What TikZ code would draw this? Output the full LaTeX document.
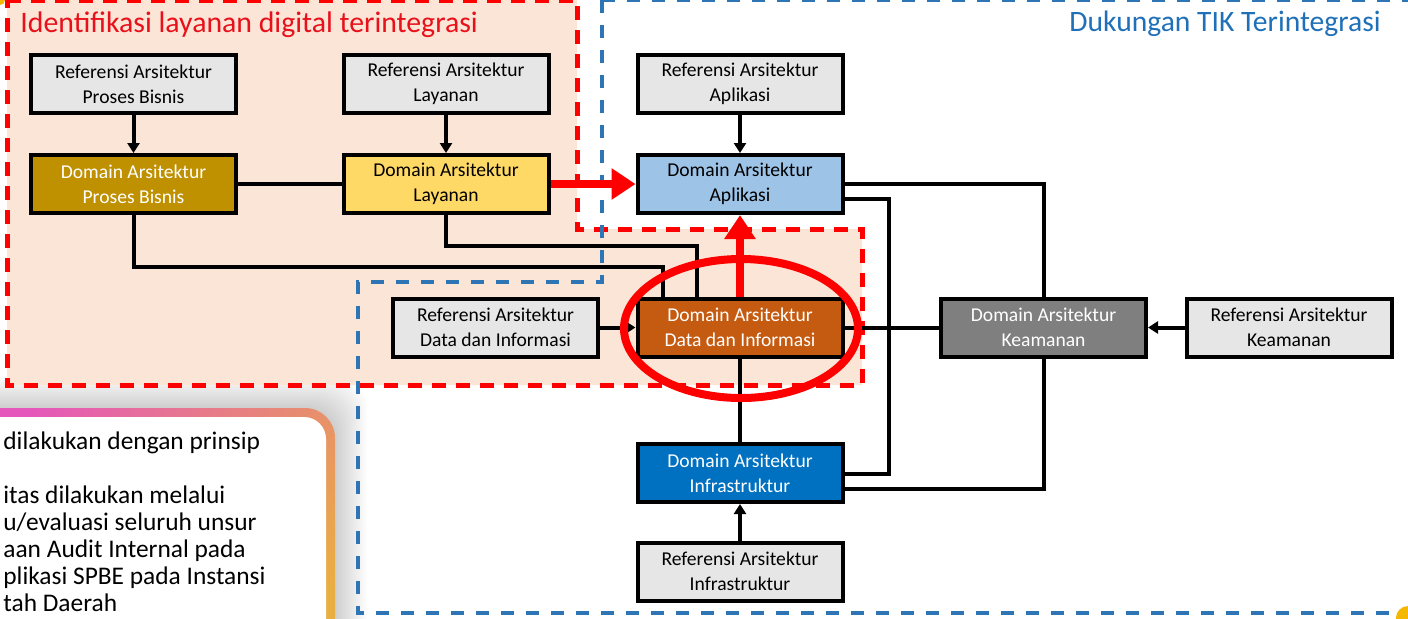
\documentclass[tikz,border=0pt]{standalone}
\usepackage{fontspec}
\setmainfont{Carlito}
\usetikzlibrary{arrows.meta,calc}
\definecolor{peach}{HTML}{FBE5D6}
\definecolor{refgray}{HTML}{E7E6E6}
\definecolor{pbgold}{HTML}{BF9000}
\definecolor{layyellow}{HTML}{FFD966}
\definecolor{aplblue}{HTML}{9DC3E6}
\definecolor{dataorange}{HTML}{C55A11}
\definecolor{keagray}{HTML}{7F7F7F}
\definecolor{infrablue}{HTML}{0070C0}
\definecolor{dashred}{HTML}{FF0000}
\definecolor{dashblue}{HTML}{2E75B6}
\definecolor{titlered}{HTML}{E8101A}
\definecolor{titleblue}{HTML}{1F70B8}
\definecolor{gradpink}{HTML}{E557BA}
\definecolor{gradorange}{HTML}{E9AE42}
\definecolor{cornery}{HTML}{F5B800}
\begin{document}
\begin{tikzpicture}[x=0.5pt,y=-0.5pt,
  box/.style={draw=black, line width=2pt, minimum width=102.5pt, minimum height=29pt,
    inner sep=0pt, align=center, font=\fontsize{9.8}{12.5}\selectfont},
  refbox/.style={box, fill=refgray, text=black},
  conn/.style={line width=2pt, draw=black},
  arr/.style={conn, -{Triangle[length=5pt,width=6pt]}},
  redarrow/.style={line width=4pt, draw=dashred, -{Triangle[length=12pt,width=15pt]}},
  reddash/.style={draw=dashred, line width=2.5pt, dash pattern=on 7pt off 5pt},
  bluedash/.style={draw=dashblue, line width=2pt, dash pattern=on 6.5pt off 6pt},
]
\useasboundingbox (0,0) rectangle (1408,618);
\clip (0,0) rectangle (1408,618);
\fill[white] (0,0) rectangle (1408,618);

% soft shadow of the note box
\foreach \d in {2,4,...,32}{
  \fill[black, opacity=0.011, rounded corners=16pt] ({-60-\d},{408-\d}) rectangle ({335+\d},{680+\d});
}

% peach region and dashed frames
\fill[peach] (7,0) -- (577,0) -- (577,229) -- (862,229) -- (862,385) -- (7,385) -- cycle;
\draw[reddash] (7,0) -- (577,0) -- (577,229) -- (862,229) -- (862,385) -- (7,385) -- cycle;
\draw[bluedash] (602,0) -- (1414,0) -- (1414,613) -- (358,613) -- (358,282) -- (602,282) -- cycle;

% note box with gradient border
\shade[rounded corners=15pt, top color=gradpink, bottom color=gradorange, shading angle=50]
  (-60,408) rectangle (335,690);
\fill[white, rounded corners=11pt] (-60,417) rectangle (326,690);
\node[anchor=base west, align=left, inner sep=0pt, font=\fontsize{12.7}{13.5}\selectfont] (note) at (3,611)
  {dilakukan dengan prinsip\\[13.5pt]itas dilakukan melalui\\u/evaluasi seluruh unsur\\aan Audit Internal pada\\plikasi SPBE pada Instansi\\tah Daerah};

% corner bits
\fill[cornery] (0,0) circle (2.5pt);
\fill[cornery] (1408,618) circle (6pt);

% titles
\node[anchor=base west, inner sep=0pt, text=titlered, font=\fontsize{14.9}{18}\selectfont] (t1) at (20,32) {Identifikasi layanan digital terintegrasi};
\node[anchor=base east, inner sep=0pt, text=titleblue, font=\fontsize{14.8}{18}\selectfont] (t2) at (1381,31) {Dukungan TIK Terintegrasi};

% nodes
\node[refbox] (refPB) at (133.5,84) {Referensi Arsitektur\\Proses Bisnis};
\node[refbox] (refLay) at (446,84) {Referensi Arsitektur\\Layanan};
\node[refbox] (refApl) at (740,84) {Referensi Arsitektur\\Aplikasi};
\node[box, fill=pbgold, text=white] (domPB) at (133.5,184) {Domain Arsitektur\\Proses Bisnis};
\node[box, fill=layyellow, text=black] (domLay) at (446,184) {Domain Arsitektur\\Layanan};
\node[box, fill=aplblue, text=black] (domApl) at (740,184) {Domain Arsitektur\\Aplikasi};
\node[refbox] (refData) at (495.5,327.5) {Referensi Arsitektur\\Data dan Informasi};
\node[box, fill=dataorange, text=white] (domData) at (740,327.5) {Domain Arsitektur\\Data dan Informasi};
\node[box, fill=keagray, text=white] (domKea) at (1043.5,327.5) {Domain Arsitektur\\Keamanan};
\node[refbox] (refKea) at (1289,327.5) {Referensi Arsitektur\\Keamanan};
\node[box, fill=infrablue, text=white] (domInfra) at (740,473) {Domain Arsitektur\\Infrastruktur};
\node[refbox] (refInfra) at (740,571.5) {Referensi Arsitektur\\Infrastruktur};

% connectors
\draw[arr] (refPB) -- (domPB);
\draw[arr] (refLay) -- (domLay);
\draw[arr] (refApl) -- (domApl);
\draw[conn] (domPB) -- (domLay);
\draw[conn] (domPB.south) |- ([xshift=-38.5pt,yshift=15pt]domData.north) -- ([xshift=-38.5pt]domData.north);
\draw[conn] (domLay.south) |- ([xshift=-21.5pt,yshift=25.5pt]domData.north) -- ([xshift=-21.5pt]domData.north);
\draw[arr] (refData) -- (domData);
\draw[conn] (domData) -- (domKea);
\draw[arr] (refKea) -- (domKea);
\draw[conn] (domData) -- (domInfra);
\draw[arr] (refInfra) -- (domInfra);
\draw[conn] (domApl.east) -| (domKea.north);
\draw[conn] ([yshift=-7.5pt]domApl.east) -| ([xshift=22pt]domData.east) |- ([yshift=-0.5pt]domInfra.east);
\draw[conn] (domKea.south) |- ([yshift=-8pt]domInfra.east);

% highlight
\draw[dashred, line width=4pt] (741,328.5) ellipse [x radius=58.5pt, y radius=34.75pt];
\draw[redarrow] (domLay.east) -- (domApl.west);
\draw[redarrow] (domData.north) -- (domApl.south);
\end{tikzpicture}
\end{document}
